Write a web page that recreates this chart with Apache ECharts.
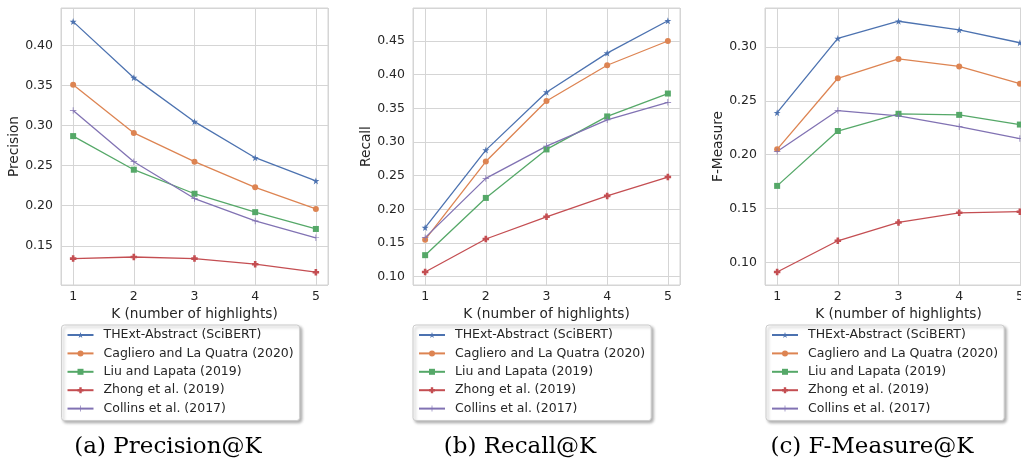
<!DOCTYPE html>
<html>
<head>
<meta charset="utf-8">
<script src="https://cdn.jsdelivr.net/npm/echarts@6/dist/echarts.min.js"></script>
<style>html,body{margin:0;padding:0;background:#fff;}#c{width:1021px;height:466px;}</style>
</head>
<body>
<div id="c"></div>
<script>
const ks = [1, 2, 3, 4, 5];
const seriesNames = ['THExt-Abstract (SciBERT)', 'Cagliero and La Quatra (2020)', 'Liu and Lapata (2019)', 'Zhong et al. (2019)', 'Collins et al. (2017)'];
const precision = [
  [0.430, 0.360, 0.305, 0.260, 0.231],
  [0.351, 0.291, 0.255, 0.223, 0.196],
  [0.287, 0.245, 0.215, 0.192, 0.171],
  [0.134, 0.136, 0.134, 0.127, 0.117],
  [0.319, 0.255, 0.209, 0.181, 0.160]
];
const recall = [
  [0.173, 0.288, 0.374, 0.432, 0.480],
  [0.155, 0.271, 0.361, 0.414, 0.450],
  [0.132, 0.217, 0.289, 0.338, 0.372],
  [0.107, 0.156, 0.189, 0.220, 0.248],
  [0.158, 0.246, 0.294, 0.333, 0.359]
];
const fmeasure = [
  [0.239, 0.308, 0.324, 0.316, 0.304],
  [0.205, 0.271, 0.289, 0.282, 0.266],
  [0.171, 0.222, 0.238, 0.237, 0.228],
  [0.091, 0.120, 0.137, 0.146, 0.147],
  [0.203, 0.241, 0.236, 0.226, 0.215]
];
const yNames = ['Precision', 'Recall', 'F-Measure'];
const xName = 'K (number of highlights)';
const captions = ['(a) Precision@K', '(b) Recall@K', '(c) F-Measure@K'];

const colors = ['#4c72b0', '#dd8452', '#55a868', '#c44e52', '#8172b3'];
const STAR = 'path://M0,-1 L0.2245,-0.309 L0.951,-0.309 L0.363,0.118 L0.588,0.809 L0,0.382 L-0.588,0.809 L-0.363,0.118 L-0.951,-0.309 L-0.2245,-0.309 Z';
const PFILL = 'path://M-0.4,-1 H0.4 V-0.4 H1 V0.4 H0.4 V1 H-0.4 V0.4 H-1 V-0.4 H-0.4 Z';
const PLUS = 'path://M-0.11,-1 H0.11 V-0.11 H1 V0.11 H0.11 V1 H-0.11 V0.11 H-1 V-0.11 H-0.11 Z';
const symbols = [STAR, 'circle', 'rect', PFILL, PLUS];
const symbolSizes = [7, 6, 6, 6.5, 6.5];

const panels = [
  { data: precision, left: 61, ymin: 0.101, ymax: 0.447, legendLeft: 61.5, cap: 168 },
  { data: recall, left: 413, ymin: 0.0877, ymax: 0.499, legendLeft: 413, cap: 520 },
  { data: fmeasure, left: 765, ymin: 0.0789, ymax: 0.3363, legendLeft: 766, cap: 872 }
];

const textColor = '#262626';
const gridColor = '#d5d5d5';
const grids = [], xAxes = [], yAxes = [], series = [], legends = [], titles = [];
panels.forEach((p, i) => {
  grids.push({ left: p.left, top: 8, width: 267, height: 277, show: true, borderColor: gridColor, borderWidth: 1,
    backgroundColor: 'transparent', containLabel: false, outerBoundsMode: 'none' });
  xAxes.push({
    type: 'value', gridIndex: i, min: 0.8, max: 5.2, minInterval: 1, maxInterval: 1,
    name: xName, nameLocation: 'middle', nameGap: 19,
    nameTextStyle: { fontFamily: 'DejaVu Sans', fontSize: 13.7, color: textColor },
    axisLine: { show: false }, axisTick: { show: false },
    axisLabel: { showMinLabel: false, showMaxLabel: false, fontFamily: 'DejaVu Sans', fontSize: 12.5, color: textColor, margin: 5 },
    splitLine: { show: true, lineStyle: { color: gridColor, width: 1 } }
  });
  yAxes.push({
    type: 'value', gridIndex: i, min: p.ymin, max: p.ymax, minInterval: 0.05, maxInterval: 0.05,
    name: yNames[i], nameLocation: 'middle', nameGap: 40,
    nameTextStyle: { fontFamily: 'DejaVu Sans', fontSize: 13.7, color: textColor },
    axisLine: { show: false }, axisTick: { show: false },
    axisLabel: { showMinLabel: false, showMaxLabel: false, fontFamily: 'DejaVu Sans', fontSize: 12.5, color: textColor, margin: 8,
      formatter: v => v.toFixed(2) },
    splitLine: { show: true, lineStyle: { color: gridColor, width: 1 } }
  });
  p.data.forEach((vals, s) => {
    series.push({
      type: 'line', name: seriesNames[s], xAxisIndex: i, yAxisIndex: i,
      data: ks.map((k, j) => [k, vals[j]]),
      symbol: symbols[s], symbolSize: symbolSizes[s], showSymbol: true,
      lineStyle: { color: colors[s], width: 1.3 },
      itemStyle: { color: colors[s] },
      clip: false,
      animation: false, emphasis: { disabled: true }
    });
  });
  legends.push({
    orient: 'vertical', left: p.legendLeft, top: 325,
    data: seriesNames,
    itemWidth: 26, itemHeight: 7.5, itemGap: 4.4,
    padding: [3, 6, 5, 5],
    backgroundColor: '#ffffff', borderColor: '#cccccc', borderWidth: 1, borderRadius: 3,
    shadowBlur: 3, shadowColor: 'rgba(0,0,0,0.3)', shadowOffsetX: 2, shadowOffsetY: 2,
    textStyle: { fontFamily: 'DejaVu Sans', fontSize: 12.5, color: textColor, lineHeight: 14, padding: [0, 0, 0, 5] },
    selectedMode: false
  });
  titles.push({
    text: captions[i], left: p.cap, top: 436, textAlign: 'center', padding: 0,
    textStyle: { fontFamily: 'DejaVu Serif', fontSize: 23, fontWeight: 'normal', color: '#000000' }
  });
});

const chart = echarts.init(document.getElementById('c'), null, { renderer: 'canvas' });
chart.setOption({
  animation: false,
  backgroundColor: '#ffffff',
  title: titles,
  grid: grids,
  xAxis: xAxes,
  yAxis: yAxes,
  legend: legends,
  series: series
});
</script>
</body>
</html>
